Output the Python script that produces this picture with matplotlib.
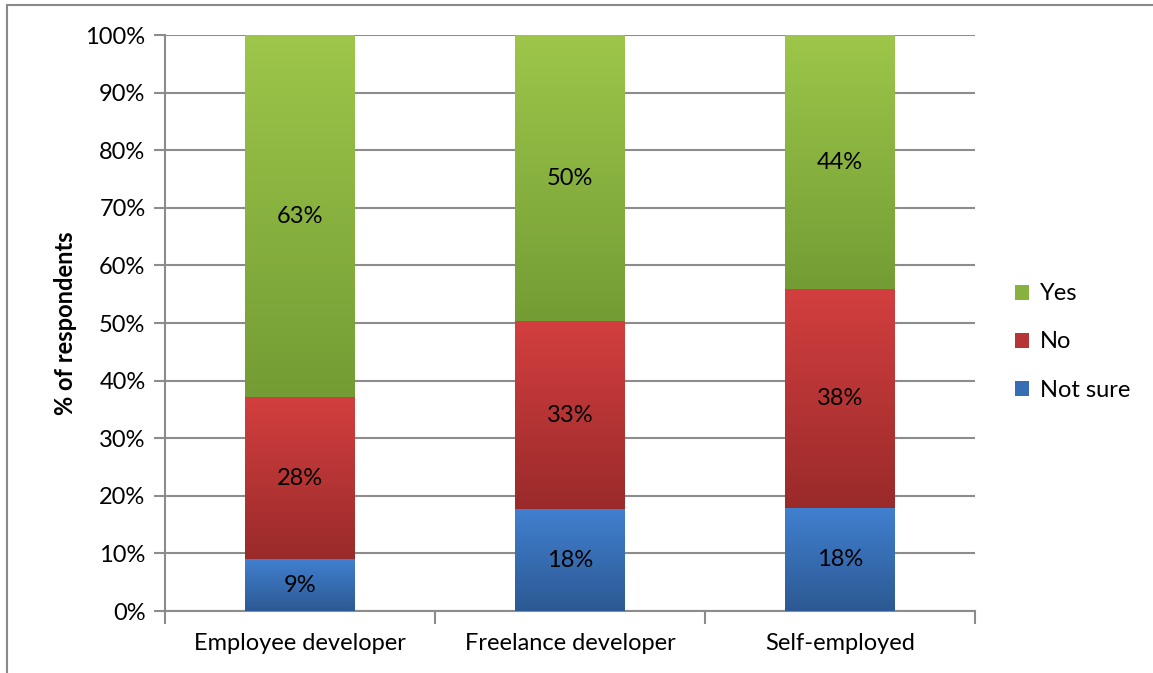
import matplotlib.pyplot as plt
import matplotlib.patches as mpatches
from matplotlib.colors import LinearSegmentedColormap, to_rgb
import numpy as np

plt.rcParams['font.family'] = ['Lato', 'DejaVu Sans']

categories = ['Employee developer', 'Freelance developer', 'Self-employed']
not_sure = [9.0, 17.7, 17.9]
no = [28.1, 32.6, 38.0]
yes = [62.9, 49.7, 44.1]

series = [('Not sure', not_sure, '#4180d0', '#2c5993'),
          ('No', no, '#d33f3f', '#9a2a2a'),
          ('Yes', yes, '#9dc64a', '#739d34')]

grid_col = '#8c8c8c'
fs = 17

fig = plt.figure(figsize=(11.53, 6.73), dpi=100)
# outer chart frame
fig.add_artist(mpatches.Rectangle((7 / 1153, -0.1), 1.2, 1 - 5 / 673 + 0.1,
                                  transform=fig.transFigure, fill=False,
                                  edgecolor='#8a8a8a', lw=1.5))
ax = fig.add_axes([165 / 1153, 1 - 611 / 673, 810 / 1153, 576 / 673])

x = np.arange(len(categories))
width = 0.405
bottom = np.zeros(len(categories))
grad = np.linspace(0, 1, 256).reshape(-1, 1)
for name, vals, top_c, bot_c in series:
    vals = np.array(vals)
    bars = ax.bar(x, vals, width, bottom=bottom, color=bot_c, zorder=3,
                  linewidth=0)
    cmap = LinearSegmentedColormap.from_list(name, [bot_c, top_c])
    for b, v in zip(bars, vals):
        bx, by = b.get_x(), b.get_y()
        im = ax.imshow(grad, cmap=cmap, aspect='auto', origin='lower',
                       extent=[bx, bx + b.get_width(), by, by + v], zorder=4,
                       interpolation='bilinear')
        im.set_clip_path(b)
        ax.text(bx + b.get_width() / 2, by + v / 2, f'{v:.0f}%',
                ha='center', va='center', fontsize=fs, color='black', zorder=5)
    bottom += vals

ax.set_xlim(-0.5, len(categories) - 0.5)
ax.set_ylim(0, 100)
ax.set_yticks(np.arange(0, 101, 10))
ax.set_yticklabels([f'{t}%' for t in range(0, 101, 10)], fontsize=fs)
ax.yaxis.grid(True, color=grid_col, lw=1.5, zorder=0)
ax.set_axisbelow(True)

ax.set_xticks(x)
ax.set_xticklabels(categories, fontsize=fs)
ax.tick_params(axis='x', length=0, pad=16)
ax.set_xticks(np.arange(-0.5, len(categories)), minor=True)
ax.tick_params(axis='x', which='minor', length=9, width=1.5, color=grid_col)
ax.tick_params(axis='y', length=8, width=1.5, color=grid_col, pad=6)

for s in ['top', 'right']:
    ax.spines[s].set_visible(False)
for s in ['left', 'bottom']:
    ax.spines[s].set_color(grid_col)
    ax.spines[s].set_linewidth(1.5)

ax.set_ylabel('% of respondents', fontsize=fs, fontweight='bold', labelpad=6)

# legend swatches use the middle of each gradient
leg_handles = [mpatches.Patch(facecolor=(np.array(to_rgb(s[2])) + np.array(to_rgb(s[3]))) / 2,
                              label=s[0]) for s in reversed(series)]
fig.legend(handles=leg_handles, loc='center left',
           bbox_to_anchor=(994 / 1153, 1 - 342 / 673), frameon=False,
           fontsize=fs, handlelength=0.6, handleheight=0.6,
           handletextpad=0.45, labelspacing=1.15)

fig.savefig('out.png', dpi=100)
